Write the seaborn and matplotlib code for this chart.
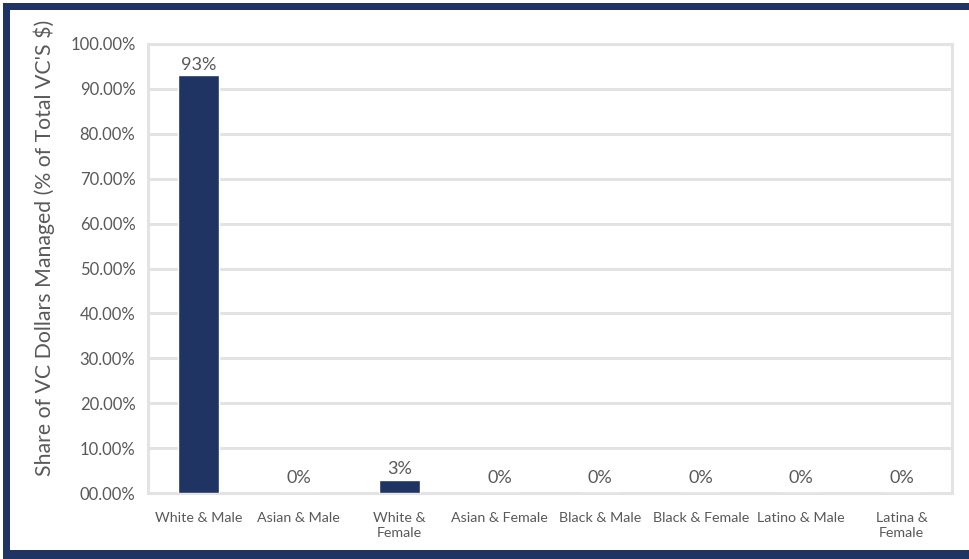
import matplotlib
matplotlib.use("Agg")
import matplotlib.pyplot as plt
from matplotlib.patches import Rectangle
import seaborn as sns
import pandas as pd

categories = ["White & Male", "Asian & Male", "White &\nFemale", "Asian & Female",
              "Black & Male", "Black & Female", "Latino & Male", "Latina &\nFemale"]
shares = [93, 0, 3, 0, 0, 0, 0, 0]
bar_labels = ["93%", "0%", "3%", "0%", "0%", "0%", "0%", "0%"]
ytick_values = [0, 10, 20, 30, 40, 50, 60, 70, 80, 90, 100]
ytick_labels = ["00.00%", "10.00%", "20.00%", "30.00%", "40.00%", "50.00%",
                "60.00%", "70.00%", "80.00%", "90.00%", "100.00%"]
ylabel = "Share of VC Dollars Managed (% of Total VC'S $)"

sns.set_theme(style="white")
plt.rcParams["font.family"] = ["Lato", "DejaVu Sans"]

navy = "#1f3462"
text_gray = "#595959"
grid_gray = "#e3e3e3"

df = pd.DataFrame({"group": categories, "share": shares})

W, H = 969, 559
fig = plt.figure(figsize=(W / 100, H / 100), dpi=100)
ax = fig.add_axes([148 / W, 1 - 493 / H, (952 - 148) / W, (493 - 44) / H])

sns.barplot(data=df, x="group", y="share", color=navy, width=0.41,
            saturation=1, ax=ax, zorder=3)

ax.set_ylim(0, 100)
ax.set_xlim(-0.5, len(categories) - 0.5)
ax.set_yticks(ytick_values)
ax.set_yticklabels(ytick_labels, fontsize=12, color=text_gray)
ax.tick_params(axis="y", length=0, pad=9)
ax.tick_params(axis="x", length=0, pad=14, labelsize=10.3, labelcolor=text_gray)
for lbl in ax.get_xticklabels():
    lbl.set_linespacing(1.3)
ax.set_xlabel("")
ax.set_ylabel(ylabel, fontsize=15.3, color=text_gray)
ax.yaxis.set_label_coords(-0.116, 0.547)

ax.yaxis.grid(True, color=grid_gray, linewidth=2.2, zorder=0)
ax.set_axisbelow(True)
for side in ["left", "right", "top", "bottom"]:
    ax.spines[side].set_visible(True)
    ax.spines[side].set_color(grid_gray)
    ax.spines[side].set_linewidth(2.2)

# value labels above each bar; empty bars get a little extra lift off the axis
for i, (v, t) in enumerate(zip(shares, bar_labels)):
    lift = 2 if v > 0 else 5
    ax.annotate(t, (i, v), xytext=(0, lift), textcoords="offset points",
                ha="center", va="bottom", fontsize=13, color=text_gray)

# navy frame along the top, left and bottom edges (pixel units)
def px_rect(x0, y0, x1, y1):
    return Rectangle((x0 / W, 1 - y1 / H), (x1 - x0) / W, (y1 - y0) / H,
                     transform=fig.transFigure, facecolor=navy,
                     edgecolor="none", zorder=10)

fig.patches.extend([
    px_rect(3, 3, W, 10),
    px_rect(3, 3, 10, H),
    px_rect(3, 550, W, H),
])

fig.savefig("out.png", dpi=100, facecolor="white")
